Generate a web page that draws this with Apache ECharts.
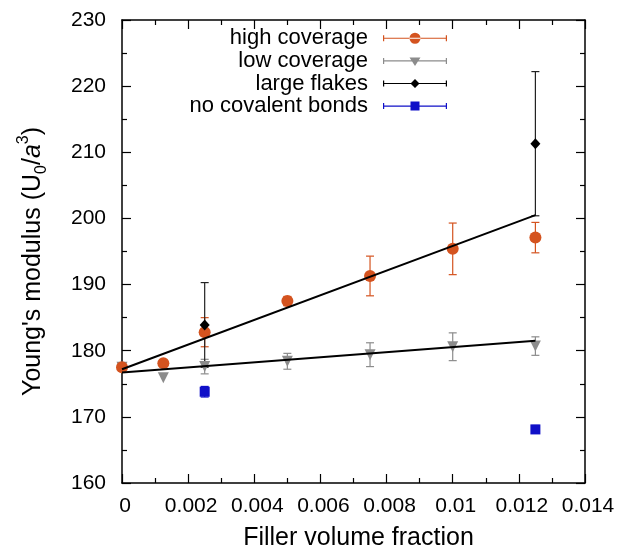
<!DOCTYPE html>
<html>
<head>
<meta charset="utf-8">
<script src="https://cdn.jsdelivr.net/npm/echarts@6/dist/echarts.min.js"></script>
<style>html,body{margin:0;padding:0;background:#fff}#c{width:617px;height:549px}</style>
</head>
<body>
<div id="c"></div>
<script>
// ---- data ----
const xTicks = [0, 0.002, 0.004, 0.006, 0.008, 0.01, 0.012, 0.014];
const xTickLabels = ['0', '0.002', '0.004', '0.006', '0.008', '0.01', '0.012', '0.014'];
const yTickLabels = ['160', '170', '180', '190', '200', '210', '220', '230'];

const highX = [0, 0.00125, 0.0025, 0.005, 0.0075, 0.01, 0.0125];
const highY = [177.5, 178.1, 182.8, 187.5, 191.3, 195.4, 197.1];
const highErr = [0, 0, 2.2, 0.7, 3.0, 3.9, 2.3];

const lowX = [0, 0.00125, 0.0025, 0.005, 0.0075, 0.01, 0.0125];
const lowY = [177.5, 175.9, 177.6, 178.4, 179.4, 180.6, 180.7];
const lowErr = [0, 0, 1.1, 1.2, 1.8, 2.1, 1.4];

const largeX = [0.0025, 0.0125];
const largeY = [183.9, 211.3];
const largeErr = [6.4, 10.9];

const noCovX = [0.0025, 0.0125];
const noCovY = [173.8, 168.1];
const noCovErr = [0.8, 0.6];

const fitHighX = [0, 0.0125];
const fitHighY = [177.2, 200.5];
const fitLowX = [0, 0.0125];
const fitLowY = [176.7, 181.5];

const names = ['high coverage', 'low coverage', 'large flakes', 'no covalent bonds'];
// ---- end data ----

const cOrange = '#d4531f';
const cGray = '#8c8c8c';
const cBlack = '#000000';
const cBlue = '#1010c8';
const FONT = 'Liberation Sans, Arial, sans-serif';

function pts(xs, ys) { return xs.map((x, i) => [x, ys[i]]); }
function errs(xs, ys, es) {
  const out = [];
  xs.forEach((x, i) => { if (es[i] > 0) out.push([x, ys[i] - es[i], ys[i] + es[i]]); });
  return out;
}
function errSeries(name, data, color) {
  return {
    type: 'custom', name: name, data: data, clip: false, silent: true,
    encode: { x: 0, y: [1, 2] },
    renderItem: function (params, api) {
      const x = api.value(0);
      const p1 = api.coord([x, api.value(2)]);
      const p2 = api.coord([x, api.value(1)]);
      const w = 4;
      const st = { stroke: color, lineWidth: 1.2 };
      return {
        type: 'group', children: [
          { type: 'line', shape: { x1: p1[0], y1: p1[1], x2: p2[0], y2: p2[1] }, style: st },
          { type: 'line', shape: { x1: p1[0] - w, y1: p1[1], x2: p1[0] + w, y2: p1[1] }, style: st },
          { type: 'line', shape: { x1: p2[0] - w, y1: p2[1], x2: p2[0] + w, y2: p2[1] }, style: st }
        ]
      };
    }
  };
}
// legend icons: line with end caps plus marker, in a 64x12 box
const base = 'M0,5.4H64V6.6H0Z M0,3H1.2V9H0Z M62.8,3H64V9H62.8Z ';
const iconCircle = 'path://' + base + 'M26.5,6a5.5,5.5 0 1,0 11,0a5.5,5.5 0 1,0 -11,0Z M32,0.2v0.1Z M32,11.8v0.1Z';
const iconTri = 'path://' + base + 'M26.5,2.5H37.5L32,11Z M32,0v0.1Z M32,12v-0.1Z';
const iconDia = 'path://' + base + 'M32,1.5L36.5,6L32,10.5L27.5,6Z M32,0v0.1Z M32,12v-0.1Z';
const iconSq = 'path://' + base + 'M27.5,1.5H36.5V10.5H27.5Z M32,0v0.1Z M32,12v-0.1Z';

function axisCommon(showLabel) {
  return {
    axisLine: { show: true, onZero: false, lineStyle: { color: '#000', width: 1.5 } },
    axisTick: { show: true, inside: true, length: 9, lineStyle: { color: '#000', width: 1.2 } },
    minorTick: { show: true, splitNumber: 2, length: 5, lineStyle: { color: '#000', width: 1.2 } },
    splitLine: { show: false },
    axisLabel: { show: showLabel, color: '#000', fontSize: 21, fontFamily: FONT }
  };
}

const chart = echarts.init(document.getElementById('c'), null, { renderer: 'canvas' });
const xA = axisCommon(true);
xA.axisLabel.margin = 13;
xA.axisLabel.padding = [0, 0, 0, 6];
xA.axisLabel.formatter = function (v) { const i = xTicks.findIndex(t => Math.abs(t - v) < 1e-9); return i >= 0 ? xTickLabels[i] : ''; };
const yA = axisCommon(true);
yA.axisLabel.margin = 16;
yA.axisLabel.formatter = function (v) { const i = Math.round((v - 160) / 10); return yTickLabels[i] || ''; };

chart.setOption({
  animation: false,
  backgroundColor: '#fff',
  textStyle: { fontFamily: FONT },
  grid: { left: 122, right: 32, top: 20, bottom: 66, containLabel: false, outerBoundsMode: 'none' },
  legend: {
    orient: 'vertical', align: 'right', right: 165, top: 22,
    itemWidth: 64, itemHeight: 12, itemGap: 0,
    selectedMode: false,
    textStyle: { fontSize: 22, color: '#000', fontFamily: FONT, lineHeight: 22.6, padding: [0, 10, 0, 0] },
    data: [
      { name: names[0], icon: iconCircle },
      { name: names[1], icon: iconTri },
      { name: names[2], icon: iconDia },
      { name: names[3], icon: iconSq }
    ]
  },
  xAxis: [
    Object.assign({ type: 'value', min: 0, max: 0.014, interval: 0.002, position: 'bottom',
      name: 'Filler volume fraction', nameLocation: 'middle', nameGap: 43,
      nameTextStyle: { fontSize: 25, color: '#000', fontFamily: FONT, padding: [0, 0, 0, 10] } }, xA),
    Object.assign({ type: 'value', min: 0, max: 0.014, interval: 0.002, position: 'top' }, axisCommon(false))
  ],
  yAxis: [
    Object.assign({ type: 'value', min: 160, max: 230, interval: 10, position: 'left',
      name: "Young's modulus (U{sub|0}/{it|a}{sup|3})", nameLocation: 'middle', nameGap: 72, nameRotate: 90,
      nameTextStyle: { fontSize: 25, color: '#000', fontFamily: FONT, lineHeight: 34, padding: [0, 20, 0, 0],
        rich: {
          sub: { fontSize: 16, verticalAlign: 'bottom', color: '#000', fontFamily: FONT, lineHeight: 34 },
          sup: { fontSize: 16, verticalAlign: 'top', color: '#000', fontFamily: FONT, lineHeight: 34 },
          it: { fontSize: 25, fontStyle: 'italic', color: '#000', fontFamily: FONT, lineHeight: 34 }
        } } }, yA),
    Object.assign({ type: 'value', min: 160, max: 230, interval: 10, position: 'right' }, axisCommon(false))
  ],
  series: [
    errSeries('low err', errs(lowX, lowY, lowErr), cGray),
    { type: 'scatter', name: names[1], data: pts(lowX, lowY), symbol: 'triangle', symbolRotate: 180, symbolSize: 11, clip: false,
      itemStyle: { color: cGray, opacity: 1 } },
    errSeries('high err', errs(highX, highY, highErr), cOrange),
    { type: 'scatter', name: names[0], data: pts(highX, highY), symbol: 'circle', symbolSize: 12, clip: false,
      itemStyle: { color: cOrange, opacity: 1 } },
    errSeries('large err', errs(largeX, largeY, largeErr), '#222'),
    { type: 'scatter', name: names[2], data: pts(largeX, largeY), symbol: 'diamond', symbolSize: [10, 11], clip: false,
      itemStyle: { color: cBlack, opacity: 1 } },
    errSeries('nocov err', errs(noCovX, noCovY, noCovErr), cBlue),
    { type: 'scatter', name: names[3], data: pts(noCovX, noCovY), symbol: 'rect', symbolSize: 10, clip: false,
      itemStyle: { color: cBlue, opacity: 1 } },
    { type: 'line', name: 'fit high', data: pts(fitHighX, fitHighY), symbol: 'none', silent: true,
      lineStyle: { color: '#000', width: 2 } },
    { type: 'line', name: 'fit low', data: pts(fitLowX, fitLowY), symbol: 'none', silent: true,
      lineStyle: { color: '#000', width: 2 } }
  ]
});
</script>
</body>
</html>
